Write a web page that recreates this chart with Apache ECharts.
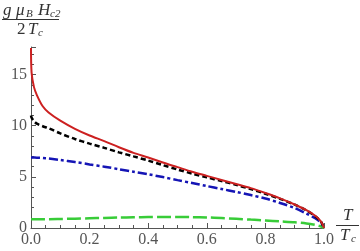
<!DOCTYPE html>
<html><head><meta charset="utf-8">
<script src="https://cdn.jsdelivr.net/npm/echarts@6/dist/echarts.min.js"></script>
<style>html,body{margin:0;padding:0;background:#fff}#c{width:360px;height:251px}</style>
</head><body><div id="c"></div>
<script>
var T =     [0,    0.002, 0.01, 0.02, 0.04, 0.06, 0.1,  0.15, 0.2,  0.25, 0.3,  0.35, 0.4,  0.45, 0.5,  0.55, 0.6,  0.65, 0.7,  0.75, 0.8,  0.85, 0.9,  0.94, 0.97, 0.99, 1.0];
var red =   [17.6, 15.2,  13.8, 13.0, 11.9, 11.3, 10.5, 9.7,  9.05, 8.5,  7.9,  7.35, 6.9,  6.4,  5.95, 5.5,  5.1,  4.7,  4.3,  3.9,  3.42, 2.9,  2.3,  1.75, 1.2,  0.62, 0];
var black = [11.0, 10.8,  10.45,10.2, 9.95, 9.75, 9.25, 8.7,  8.25, 7.84, 7.4,  7.0,  6.6,  6.15, 5.72, 5.32, 4.95, 4.6,  4.22, 3.8,  3.35, 2.85, 2.28, 1.72, 1.15, 0.6,  0];
var blue =  [6.9,  6.9,   6.89, 6.88, 6.85, 6.8,  6.65, 6.45, 6.22, 6.0,  5.75, 5.5,  5.25, 4.98, 4.68, 4.4,  4.1,  3.82, 3.53, 3.22, 2.88, 2.45, 1.95, 1.4,  0.95, 0.5,  0];
var green = [0.85, 0.85,  0.85, 0.85, 0.86, 0.86, 0.88, 0.91, 0.95, 0.99, 1.02, 1.05, 1.07, 1.08, 1.08, 1.06, 1.03, 0.97, 0.9,  0.82, 0.74, 0.65, 0.56, 0.45, 0.3,  0.15, 0];
var xTicks = [0, 0.2, 0.4, 0.6, 0.8, 1.0];
var yTicks = [0, 5, 10, 15];

function pairs(ys){ return T.map(function(t,i){ return [t, ys[i]]; }); }
var serif = '"Liberation Serif", "DejaVu Serif", serif';
var axisCol = '#555';
var chart = echarts.init(document.getElementById('c'), null, {renderer:'canvas'});
chart.setOption({
  animation:false,
  grid:{left:31, right:36, top:47, bottom:23, containLabel:false},
  xAxis:{type:'value', min:0, max:1, interval:0.2,
    axisLine:{lineStyle:{color:axisCol, width:1}},
    axisTick:{inside:true, length:5, lineStyle:{color:axisCol}},
    minorTick:{show:true, splitNumber:4, length:3, lineStyle:{color:axisCol}},
    splitLine:{show:false},
    axisLabel:{margin:4, fontFamily:serif, fontSize:16, color:'#555',
      formatter:function(v){return v.toFixed(1);}}
  },
  yAxis:{type:'value', min:0, max:17.7, interval:5,
    axisLine:{show:true, lineStyle:{color:axisCol, width:1}},
    axisTick:{show:true, inside:true, length:5, lineStyle:{color:axisCol}},
    minorTick:{show:true, splitNumber:5, length:3, lineStyle:{color:axisCol}},
    splitLine:{show:false},
    axisLabel:{margin:4, fontFamily:serif, fontSize:16, color:'#555', showMaxLabel:false,
      formatter:function(v){return yTicks.indexOf(v)>=0 ? String(v) : '';}}
  },
  series:[
    {type:'line', data:pairs(green), showSymbol:false, smooth:0.3, z:2,
      lineStyle:{color:'#38cc38', width:2.5, type:[14,4]}},
    {type:'line', data:pairs(blue), showSymbol:false, smooth:0.3, z:3,
      lineStyle:{color:'#1515b5', width:2.5, type:[9,3,3,3]}},
    {type:'line', data:pairs(black), showSymbol:false, smooth:0.3, z:4,
      lineStyle:{color:'#000', width:2.5, type:[5,3]}},
    {type:'line', data:pairs(red), showSymbol:false, smooth:0.3, z:5,
      lineStyle:{color:'#cc2020', width:2}}
  ],
  graphic:[
    {type:'text', left:3, top:2, style:{text:'g', font:'italic 17px '+serif, fill:'#333'}},
    {type:'text', left:16, top:2, style:{text:'μ', font:'italic 17px '+serif, fill:'#333'}},
    {type:'text', left:26, top:9, style:{text:'B', font:'italic 11px '+serif, fill:'#333'}},
    {type:'text', left:38, top:2, style:{text:'H', font:'italic 17px '+serif, fill:'#333'}},
    {type:'text', left:50, top:9, style:{text:'c2', font:'italic 11px '+serif, fill:'#333'}},
    {type:'line', shape:{x1:2, y1:19.5, x2:59, y2:19.5}, style:{stroke:'#333', lineWidth:1}},
    {type:'text', left:17, top:21, style:{text:'2', font:'17px '+serif, fill:'#333'}},
    {type:'text', left:28, top:21, style:{text:'T', font:'italic 17px '+serif, fill:'#333'}},
    {type:'text', left:38, top:28, style:{text:'c', font:'italic 11px '+serif, fill:'#333'}},
    {type:'text', left:343, top:207, style:{text:'T', font:'italic 17px '+serif, fill:'#333'}},
    {type:'line', shape:{x1:336, y1:225.5, x2:359, y2:225.5}, style:{stroke:'#333', lineWidth:1}},
    {type:'text', left:340, top:227, style:{text:'T', font:'italic 17px '+serif, fill:'#333'}},
    {type:'text', left:351, top:234, style:{text:'c', font:'italic 11px '+serif, fill:'#333'}}
  ]
});
</script></body></html>
